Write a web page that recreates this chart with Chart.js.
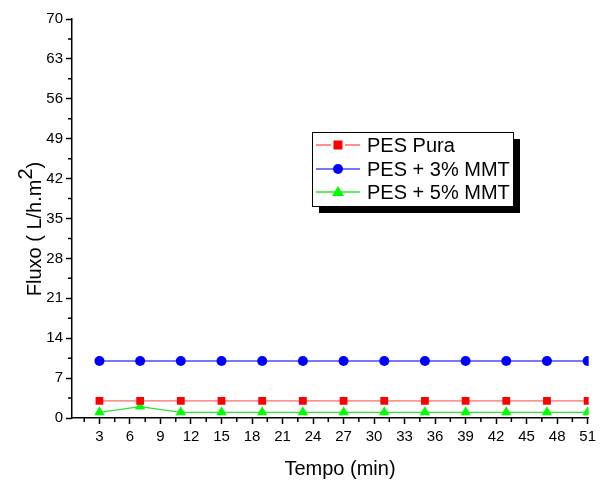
<!DOCTYPE html>
<html>
<head>
<meta charset="utf-8">
<script src="https://cdn.jsdelivr.net/npm/chart.js@4.4.0/dist/chart.umd.min.js"></script>
<style>
  html, body { margin: 0; padding: 0; background: #fff; }
  #wrap { width: 600px; height: 480px; }
</style>
</head>
<body>
<div id="wrap"><canvas id="chartCanvas" width="600" height="480"></canvas></div>
<script>
// time points (min)
const tempo = [3, 7, 11, 15, 19, 23, 27, 31, 35, 39, 43, 47, 51];
// flux values per membrane
const pesPura = [3, 3, 3, 3, 3, 3, 3, 3, 3, 3, 3, 3, 3];
const pes3mmt = [10, 10, 10, 10, 10, 10, 10, 10, 10, 10, 10, 10, 10];
const pes5mmt = [1, 2, 1, 1, 1, 1, 1, 1, 1, 1, 1, 1, 1];
const seriesNames = ['PES Pura', 'PES + 3% MMT', 'PES + 5% MMT'];
// axis ticks
const xTicks = [3, 6, 9, 12, 15, 18, 21, 24, 27, 30, 33, 36, 39, 42, 45, 48, 51];
const yTicks = [0, 7, 14, 21, 28, 35, 42, 49, 56, 63, 70];

const FONT = '"Liberation Sans", Arial, sans-serif';

function toPoints(ys) {
  return tempo.map((t, i) => ({ x: t, y: ys[i] }));
}

// minor ticks, axis titles and the boxed legend
const extrasPlugin = {
  id: 'extras',
  afterDraw(chart) {
    const ctx = chart.ctx;
    const xs = chart.scales.x, ys = chart.scales.y;
    const area = chart.chartArea;
    ctx.save();
    ctx.strokeStyle = '#000';
    ctx.lineWidth = 1.5;
    // minor ticks
    ctx.beginPath();
    for (let i = 0; i < xTicks.length; i++) {
      const v = xTicks[i] - 1.5;
      if (v < xs.min) continue;
      const px = xs.getPixelForValue(v);
      ctx.moveTo(px, area.bottom);
      ctx.lineTo(px, area.bottom + 4);
    }
    for (let i = 0; i < yTicks.length - 1; i++) {
      const py = ys.getPixelForValue(yTicks[i] + 3.5);
      ctx.moveTo(area.left, py);
      ctx.lineTo(area.left - 4, py);
    }
    ctx.stroke();

    // x title
    ctx.fillStyle = '#000';
    ctx.font = '20px ' + FONT;
    ctx.textAlign = 'center';
    ctx.textBaseline = 'alphabetic';
    ctx.fillText('Tempo (min)', 340, 475);

    // y title with superscript
    ctx.save();
    ctx.translate(41, 229);
    ctx.rotate(-Math.PI / 2);
    const a = 'Fluxo ( L/h.m', b = '2', c = ')';
    ctx.font = '20px ' + FONT;
    const wa = ctx.measureText(a).width, wb = ctx.measureText(b).width, wc = ctx.measureText(c).width;
    const x0 = -(wa + wb + wc) / 2;
    ctx.textAlign = 'left';
    ctx.fillText(a, x0, 0);
    ctx.fillText(b, x0 + wa, -9);
    ctx.fillText(c, x0 + wa + wb, 0);
    ctx.restore();

    // legend box
    const lx = 312, ly = 132, lw = 201, lh = 74;
    ctx.fillStyle = '#000';
    ctx.fillRect(lx + 7, ly + 7, lw, lh);
    ctx.fillStyle = '#fff';
    ctx.fillRect(lx, ly, lw, lh);
    ctx.lineWidth = 1;
    ctx.strokeStyle = '#000';
    ctx.strokeRect(lx + 0.5, ly + 0.5, lw, lh);
    const ds = chart.data.datasets;
    ctx.font = '20px ' + FONT;
    ctx.textBaseline = 'middle';
    ctx.textAlign = 'left';
    const rowY = [145, 169, 192];
    ds.forEach((d, i) => {
      const cy = rowY[i];
      ctx.strokeStyle = d.borderColor;
      ctx.lineWidth = 1.3;
      ctx.beginPath();
      if (i === 0) {
        ctx.moveTo(316, cy); ctx.lineTo(331, cy);
        ctx.moveTo(345, cy); ctx.lineTo(360, cy);
      } else {
        ctx.moveTo(316, cy); ctx.lineTo(360, cy);
      }
      ctx.stroke();
      ctx.fillStyle = d.pointBackgroundColor;
      if (d.pointStyle === 'rect') {
        ctx.fillRect(338 - 4.5, cy - 4.5, 9, 9);
      } else if (d.pointStyle === 'circle') {
        ctx.beginPath(); ctx.arc(338, cy, 5, 0, Math.PI * 2); ctx.fill();
      } else {
        ctx.beginPath();
        ctx.moveTo(338, cy - 6); ctx.lineTo(344, cy + 4); ctx.lineTo(332, cy + 4);
        ctx.closePath(); ctx.fill();
      }
      ctx.fillStyle = '#000';
      ctx.fillText(seriesNames[i], 367, cy + 1);
    });
    ctx.restore();
  }
};

const chart = new Chart(document.getElementById('chartCanvas').getContext('2d'), {
  type: 'line',
  data: {
    datasets: [
      {
        label: seriesNames[0], data: toPoints(pesPura),
        borderColor: '#ff6b6b', borderWidth: 1.3,
        pointStyle: 'rect', pointRadius: 5.5, pointBackgroundColor: '#ff0000',
        pointBorderColor: '#ff0000', pointBorderWidth: 0
      },
      {
        label: seriesNames[1], data: toPoints(pes3mmt),
        borderColor: '#4a4aff', borderWidth: 1.3,
        pointStyle: 'circle', pointRadius: 5, pointBackgroundColor: '#0000ff',
        pointBorderColor: '#0000ff', pointBorderWidth: 0
      },
      {
        label: seriesNames[2], data: toPoints(pes5mmt),
        borderColor: '#33e033', borderWidth: 1.3,
        pointStyle: 'triangle', pointRadius: 6, pointBackgroundColor: '#00ff00',
        pointBorderColor: '#00ff00', pointBorderWidth: 0
      }
    ]
  },
  options: {
    responsive: false,
    animation: false,
    layout: { padding: { top: 19, right: 9, left: 0, bottom: 0 } },
    plugins: { legend: { display: false }, tooltip: { enabled: false } },
    scales: {
      x: {
        type: 'linear', min: 0.3, max: 51.1,
        afterBuildTicks: (s) => { s.ticks = xTicks.map(v => ({ value: v })); },
        afterFit: (s) => { s.height = 62; },
        border: { color: '#000', width: 1.5 },
        grid: { drawOnChartArea: false, tickLength: 6, color: '#000', tickWidth: 1.5 },
        ticks: { color: '#000', font: { family: FONT, size: 15 }, maxRotation: 0, autoSkip: false, padding: 4 }
      },
      y: {
        type: 'linear', min: 0, max: 70,
        afterBuildTicks: (s) => { s.ticks = yTicks.map(v => ({ value: v })); },
        afterFit: (s) => { s.width = 72; },
        border: { color: '#000', width: 1.5 },
        grid: { drawOnChartArea: false, tickLength: 6, color: '#000', tickWidth: 1.5 },
        ticks: { color: '#000', font: { family: FONT, size: 15 }, padding: 3 }
      }
    }
  },
  plugins: [extrasPlugin]
});
</script>
</body>
</html>
